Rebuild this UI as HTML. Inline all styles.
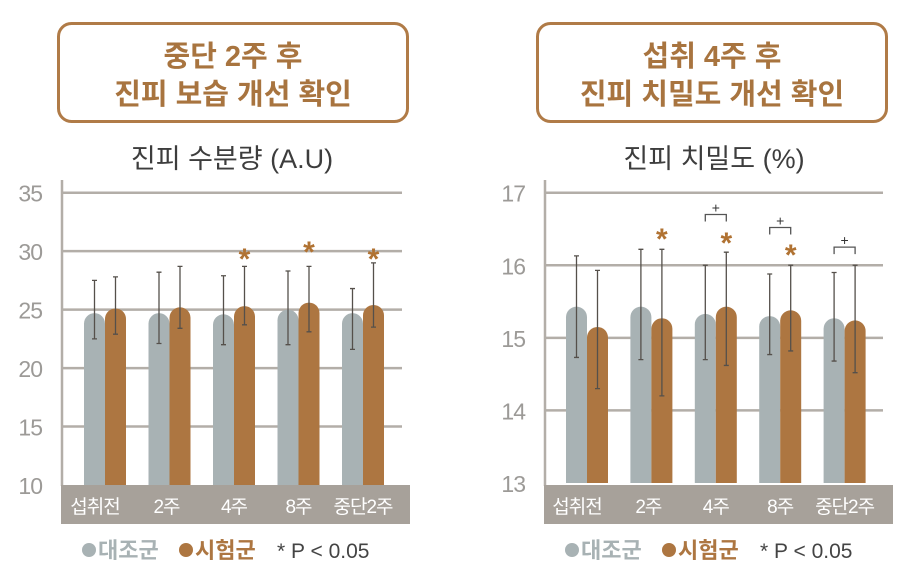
<!DOCTYPE html>
<html><head><meta charset="utf-8"><style>
body{margin:0;background:#fff;width:915px;height:580px;overflow:hidden;font-family:"Liberation Sans","Noto Sans CJK KR",sans-serif}
</style></head><body>
<svg id="svg" width="915" height="580" xmlns="http://www.w3.org/2000/svg" style="font-family:'Liberation Sans','Noto Sans CJK KR',sans-serif">
<g>
<rect x="58.5" y="23.5" width="349" height="98" rx="13" fill="none" stroke="#b07b47" stroke-width="3"/>
<text x="233" y="66" text-anchor="middle" font-size="29" fill="#a8743f" font-weight="bold">중단 2주 후</text>
<text x="233" y="104" text-anchor="middle" font-size="29" fill="#a8743f" font-weight="bold">진피 보습 개선 확인</text>
</g>
<g>
<rect x="537.5" y="23.5" width="349" height="98" rx="13" fill="none" stroke="#b07b47" stroke-width="3"/>
<text x="712" y="66" text-anchor="middle" font-size="29" fill="#a8743f" font-weight="bold">섭취 4주 후</text>
<text x="712" y="104" text-anchor="middle" font-size="29" fill="#a8743f" font-weight="bold">진피 치밀도 개선 확인</text>
</g>
<text x="232" y="168" text-anchor="middle" font-size="27" fill="#3d3d3d">진피 수분량 (A.U)</text>
<text x="714" y="168" text-anchor="middle" font-size="27" fill="#3d3d3d">진피 치밀도 (%)</text>
<g id="left"></g>
<g id="right"></g>
</svg>
<script>
const categories = ["섭취전","2주","4주","8주","중단2주"];
const leftTicks = [10,15,20,25,30,35];
const leftControl = [24.7,24.7,24.6,25.0,24.7];
const leftTest = [25.1,25.2,25.3,25.6,25.4];
const leftControlHi = [27.5,28.2,27.9,28.3,26.8];
const leftControlLo = [22.5,22.1,22.0,22.0,21.6];
const leftTestHi = [27.8,28.7,28.7,28.7,29.0];
const leftTestLo = [22.9,23.4,23.7,23.1,23.5];
const leftStar = [false,false,true,true,true];
const leftStarVal = [0,0,30.0,30.6,30.0];

const rightTicks = [13,14,15,16,17];
const rightControl = [15.43,15.43,15.33,15.3,15.27];
const rightTest = [15.15,15.27,15.43,15.38,15.24];
const rightControlHi = [16.13,16.22,16.0,15.88,15.9];
const rightControlLo = [14.73,14.7,14.7,14.77,14.68];
const rightTestHi = [15.93,16.22,16.18,16.0,16.0];
const rightTestLo = [14.3,14.2,14.62,14.82,14.52];
const rightStar = [false,true,true,true,false];
const rightStarVal = [0,16.47,16.42,16.25,0];
const rightPlus = [false,false,true,true,true];
const rightPlusVal = [0,0,16.7,16.52,16.25];

const NS="http://www.w3.org/2000/svg";
function mk(parent,tag,attrs){const e=document.createElementNS(NS,tag);for(const k in attrs)e.setAttribute(k,attrs[k]);parent.appendChild(e);return e;}

function draw(g,o){
  const y=v=>o.y0-(v-o.min)/(o.max-o.min)*(o.y0-o.y1);
  o.ticks.forEach((t,i)=>{
    if(i>0){const l=mk(g,'line',{x1:o.ax,x2:o.gx2,y1:y(t),y2:y(t),stroke:'#b3aea8','stroke-width':2.5});
    
    }
    const tx=mk(g,'text',{x:o.ax-20,y:y(t)+9,'text-anchor':'end','font-size':23,fill:'#9c9a97','letter-spacing':'-1'});
    tx.textContent=t;
    
    
  });
  const ax=mk(g,'line',{x1:o.ax,x2:o.ax,y1:180,y2:486,stroke:'#b3aea8','stroke-width':2.5});
  
  
  const bw=21;
  categories.forEach((c,i)=>{
    const gx=o.bx+i*o.step;
    [[o.ctrl,o.chi,o.clo,'#a8b2b4',gx],[o.test,o.thi,o.tlo,'#ad7641',gx+bw]].forEach((s,k)=>{
      const v=s[0][i],top=y(v),x=s[4],r=bw/2;
      const p=mk(g,'path',{d:`M${x},${o.y0} L${x},${top+r} A${r},${r} 0 0 1 ${x+bw},${top+r} L${x+bw},${o.y0} Z`,fill:s[3]});
      
      
      const cx=x+r,h=y(s[1][i]),lo=y(s[2][i]);
      const e=mk(g,'path',{d:`M${cx},${h}V${lo}M${cx-2.5},${h}H${cx+2.5}M${cx-2.5},${lo}H${cx+2.5}`,stroke:'#55504b','stroke-width':1.3,fill:'none'});
      
      
    });
    if(o.star[i]){const s=mk(g,'text',{x:gx+bw*1.5,y:y(o.starVal[i])+18,'text-anchor':'middle','font-size':30,'font-weight':'bold',fill:'#b07232'});
      s.textContent='*';
      
      }
    if(o.plus&&o.plus[i]){const py=y(o.plusVal[i]);
      const b=mk(g,'path',{d:`M${gx+bw/2},${py+7}V${py}H${gx+bw*1.5}V${py+7}`,stroke:'#555','stroke-width':1.3,fill:'none'});
      
      
      const t=mk(g,'text',{x:gx+bw,y:py-2,'text-anchor':'middle','font-size':14,fill:'#333'});
      t.textContent='+';
      
      }
  });
  const band=mk(g,'rect',{x:o.ax-1,y:485,width:o.bandW,height:39,fill:'#a7a19a'});
  
  
  categories.forEach((c,i)=>{
    const t=mk(g,'text',{x:o.bx+i*o.step+bw+o.lblOff[i],y:513,'text-anchor':'middle','font-size':19,fill:'#fff','letter-spacing':'-1'});
    t.textContent=c;
    
    
  });
  const lg=mk(g,'g',{});
  
  
  const lx=o.ax+20;
  mk(lg,'circle',{cx:lx+7,cy:550,r:7,fill:'#a8b2b4'});
  const a=mk(lg,'text',{x:lx+16,y:558,'font-size':22,fill:'#a8b2b4','font-weight':'bold'});a.textContent='대조군';
  mk(lg,'circle',{cx:lx+104,cy:550,r:7,fill:'#ad7641'});
  const b2=mk(lg,'text',{x:lx+113,y:558,'font-size':22,fill:'#ad7641','font-weight':'bold'});b2.textContent='시험군';
  const c2=mk(lg,'text',{x:lx+195,y:558,'font-size':21,fill:'#444'});c2.textContent='* P < 0.05';
}
draw(document.getElementById('left'),{min:10,max:35,y0:485,y1:192.7,ax:62,gx2:402,bx:84,step:64.5,bandW:349,ticks:leftTicks,
 ctrl:leftControl,test:leftTest,chi:leftControlHi,clo:leftControlLo,thi:leftTestHi,tlo:leftTestLo,star:leftStar,starVal:leftStarVal,lblOff:[-10,-3,0,0,0]});
draw(document.getElementById('right'),{min:13,max:17,y0:483,y1:192.7,ax:545,gx2:883,bx:566,step:64.4,bandW:349,ticks:rightTicks,
 ctrl:rightControl,test:rightTest,chi:rightControlHi,clo:rightControlLo,thi:rightTestHi,tlo:rightTestLo,star:rightStar,starVal:rightStarVal,plus:rightPlus,plusVal:rightPlusVal,lblOff:[-10,-3,0,0,0]});
</script>
</body></html>
